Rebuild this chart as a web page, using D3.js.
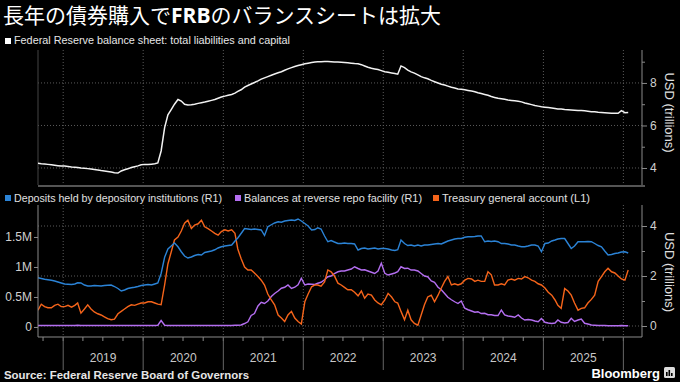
<!DOCTYPE html>
<html>
<head>
<meta charset="utf-8">
<script src="https://cdn.jsdelivr.net/npm/d3@7"></script>
<style>
  body { margin: 0; background: #000; }
  svg text { font-family: "Liberation Sans", Arial, sans-serif; fill: #d0d0d0; }
</style>
</head>
<body>
<div id="chart"></div>
<script>
// chart size
let svgWidth = 680,
  svgHeight = 382;

// texts
let titleParts = ["長年の債券購入で", "FRB", "のバランスシートは拡大"];
let topLegend = "Federal Reserve balance sheet: total liabilities and capital";
let seriesNames = [
  "Deposits held by depository institutions (R1)",
  "Balances at reverse repo facility (R1)",
  "Treasury general account  (L1)",
];
let yearLabels = ["2019", "2020", "2021", "2022", "2023", "2024", "2025"];
let topTicks = [4, 6, 8];
let topMinorTicks = [5, 7, 9];
let rightTicks = [0, 2, 4];
let rightMinorTicks = [1, 3];
let leftTicks = [0, 0.5, 1, 1.5];

// semi-monthly readings (8th and 23rd of each month), Sep 2018 - Jan 2026
// Fed balance sheet, USD trillions
let balanceSheet = [
  4.22, 4.20, 4.19, 4.17, 4.15, 4.13, 4.11, 4.09,
  4.09, 4.07, 4.05, 4.04, 4.02, 4.00, 3.99, 3.97, 3.95, 3.93, 3.91, 3.88,
  3.86, 3.84, 3.81, 3.78, 3.76, 3.86, 3.92, 3.96, 4.02, 4.06, 4.10, 4.15,
  4.17, 4.16, 4.18, 4.20, 4.24, 4.80, 5.90, 6.50, 6.75, 7.00, 7.22, 7.15,
  7.00, 6.96, 6.97, 7.00, 7.04, 7.07, 7.10, 7.14, 7.18, 7.22, 7.28, 7.34,
  7.38, 7.42, 7.46, 7.52, 7.60, 7.68, 7.80, 7.88, 7.95, 8.02, 8.10, 8.18,
  8.24, 8.30, 8.36, 8.42, 8.48, 8.53, 8.60, 8.66, 8.72, 8.77, 8.82, 8.86,
  8.90, 8.93, 8.96, 8.98, 9.00, 9.00, 9.01, 9.01, 9.00, 8.99, 8.98, 8.97,
  8.96, 8.95, 8.93, 8.91, 8.90, 8.86, 8.80, 8.74, 8.69, 8.66, 8.63, 8.58,
  8.53, 8.50, 8.47, 8.44, 8.41, 8.80, 8.72, 8.60, 8.52, 8.46, 8.38, 8.30,
  8.24, 8.20, 8.12, 8.06, 8.00, 7.94, 7.90, 7.85, 7.80, 7.76, 7.72, 7.70,
  7.68, 7.65, 7.62, 7.59, 7.54, 7.50, 7.46, 7.42, 7.36, 7.32, 7.28, 7.26,
  7.23, 7.20, 7.18, 7.16, 7.14, 7.11, 7.06, 7.02, 6.98, 6.94, 6.91, 6.88,
  6.86, 6.84, 6.82, 6.80, 6.78, 6.77, 6.75, 6.74, 6.73, 6.72, 6.71, 6.70,
  6.69, 6.67, 6.65, 6.64, 6.62, 6.61, 6.60, 6.59, 6.58, 6.57, 6.57, 6.70,
  6.60, 6.61,
];

// deposits held by depository institutions, USD trillions (right axis)
let deposits = [
  1.93, 1.90, 1.87, 1.85, 1.83, 1.80, 1.76, 1.72,
  1.68, 1.67, 1.66, 1.68, 1.73, 1.72, 1.64, 1.60, 1.60, 1.62, 1.61, 1.60,
  1.62, 1.63, 1.64, 1.58, 1.50, 1.40, 1.44, 1.50, 1.53, 1.55, 1.58, 1.62,
  1.64, 1.66, 1.64, 1.68, 1.72, 2.10, 2.75, 3.08, 3.20, 3.32, 3.17, 2.97,
  2.80, 2.72, 2.76, 2.82, 2.86, 2.84, 2.94, 2.97, 3.00, 3.05, 3.12, 3.17,
  3.20, 3.22, 3.24, 3.40, 3.52, 3.70, 3.90, 3.88, 3.86, 3.88, 3.86, 3.84,
  3.62, 3.97, 4.05, 4.12, 4.17, 4.15, 4.20, 4.22, 4.24, 4.22, 4.28, 4.20,
  4.10, 4.00, 3.84, 3.86, 3.93, 3.88, 3.60, 3.37, 3.42, 3.36, 3.30, 3.30,
  3.32, 3.30, 3.30, 3.28, 3.04, 3.10, 3.12, 3.08, 3.10, 3.12, 3.08, 3.10,
  3.10, 3.08, 3.04, 3.02, 3.05, 3.44, 3.30, 3.22, 3.24, 3.20, 3.24, 3.20,
  3.24, 3.24, 3.26, 3.28, 3.30, 3.28, 3.34, 3.40, 3.44, 3.48, 3.50, 3.50,
  3.55, 3.57, 3.57, 3.58, 3.60, 3.60, 3.37, 3.40, 3.38, 3.40, 3.37, 3.30,
  3.30, 3.28, 3.24, 3.24, 3.20, 3.17, 3.17, 3.20, 3.24, 3.24, 3.20, 2.97,
  3.30, 3.32, 3.40, 3.44, 3.48, 3.50, 3.50, 3.30, 3.10, 3.20, 3.37, 3.37,
  3.37, 3.38, 3.37, 3.30, 3.22, 3.17, 3.00, 2.84, 2.86, 2.90, 2.92, 2.96,
  2.97, 2.92,
];

// reverse repo facility balances, USD trillions (right axis)
let reverseRepo = [
  0.02, 0.02, 0.02, 0.02, 0.02, 0.02, 0.02, 0.02,
  0.02, 0.02, 0.02, 0.02, 0.03, 0.02, 0.02, 0.02, 0.02, 0.02, 0.02, 0.02,
  0.02, 0.02, 0.02, 0.02, 0.02, 0.02, 0.02, 0.02, 0.02, 0.02, 0.02, 0.02,
  0.02, 0.02, 0.02, 0.02, 0.03, 0.22, 0.03, 0.02, 0.02, 0.02, 0.02, 0.02,
  0.02, 0.02, 0.02, 0.02, 0.02, 0.02, 0.02, 0.02, 0.02, 0.02, 0.02, 0.02,
  0.02, 0.02, 0.02, 0.03, 0.03, 0.04, 0.10, 0.17, 0.42, 0.50, 0.80, 0.95,
  0.90, 1.00, 1.18, 1.30, 1.40, 1.51, 1.55, 1.64, 1.50, 1.55, 1.65, 1.91,
  1.64, 1.68, 1.67, 1.66, 1.71, 1.75, 1.85, 1.97, 2.00, 2.10, 2.17, 2.20,
  2.20, 2.24, 2.28, 2.37, 2.30, 2.24, 2.25, 2.20, 2.15, 2.10, 2.20, 2.51,
  2.11, 2.04, 2.08, 2.12, 2.17, 2.37, 2.30, 2.31, 2.24, 2.24, 2.20, 2.10,
  2.00, 1.97, 1.80, 1.75, 1.55, 1.45, 1.30, 1.15, 1.05, 0.97, 0.90, 1.00,
  0.71, 0.65, 0.60, 0.55, 0.57, 0.50, 0.51, 0.45, 0.45, 0.42, 0.42, 0.64,
  0.44, 0.40, 0.38, 0.35, 0.44, 0.32, 0.24, 0.26, 0.24, 0.20, 0.17, 0.30,
  0.15, 0.12, 0.10, 0.12, 0.24, 0.15, 0.12, 0.14, 0.31, 0.18, 0.24, 0.28,
  0.11, 0.08, 0.04, 0.03, 0.02, 0.02, 0.02, 0.01, 0.01, 0.01, 0.01, 0.02,
  0.01, 0.01,
];

// treasury general account, USD millions (millions of millions, left axis)
let treasuryAccount = [
  0.28, 0.38, 0.34, 0.32, 0.32, 0.36, 0.38, 0.34,
  0.34, 0.36, 0.33, 0.36, 0.40, 0.23, 0.30, 0.37, 0.30, 0.25, 0.22, 0.20,
  0.17, 0.14, 0.12, 0.13, 0.22, 0.26, 0.30, 0.34, 0.37, 0.36, 0.38, 0.40,
  0.40, 0.42, 0.42, 0.40, 0.38, 0.37, 0.70, 1.05, 1.25, 1.45, 1.50, 1.60,
  1.73, 1.78, 1.64, 1.70, 1.72, 1.78, 1.67, 1.64, 1.60, 1.56, 1.53, 1.59,
  1.62, 1.60, 1.62, 1.56, 1.30, 1.14, 1.00, 0.95, 0.95, 0.90, 0.84, 0.78,
  0.70, 0.55, 0.45, 0.37, 0.20, 0.15, 0.09, 0.20, 0.26, 0.15, 0.09, 0.05,
  0.42, 0.55, 0.67, 0.70, 0.70, 0.68, 0.75, 0.95, 0.92, 0.85, 0.73, 0.70,
  0.66, 0.62, 0.62, 0.58, 0.52, 0.60, 0.48, 0.55, 0.53, 0.45, 0.40, 0.37,
  0.45, 0.56, 0.50, 0.42, 0.40, 0.26, 0.12, 0.28, 0.12, 0.06, 0.03, 0.20,
  0.37, 0.50, 0.53, 0.42, 0.53, 0.65, 0.76, 0.84, 0.70, 0.72, 0.70, 0.72,
  0.78, 0.81, 0.80, 0.76, 0.78, 0.76, 0.76, 0.92, 0.87, 0.70, 0.70, 0.72,
  0.70, 0.78, 0.80, 0.78, 0.81, 0.80, 0.84, 0.82, 0.78, 0.76, 0.72, 0.70,
  0.65, 0.58, 0.53, 0.45, 0.36, 0.31, 0.64, 0.60, 0.53, 0.40, 0.28, 0.31,
  0.32, 0.40, 0.46, 0.53, 0.76, 0.84, 0.92, 0.98, 0.92, 0.90, 0.85, 0.80,
  0.78, 0.95,
];

// colors
let colors = {
  balance: "#f2f2f2",
  deposits: "#2b83d6",
  repo: "#b46ef0",
  treasury: "#f5641a",
  grid: "#5a5a5a",
  axis: "#8a8a8a",
};

// dates: 8th and 23rd of each month
let dates = d3
  .timeMonth.range(new Date(2018, 8, 1), new Date(2026, 1, 1))
  .flatMap((m) => [
    new Date(m.getFullYear(), m.getMonth(), 8),
    new Date(m.getFullYear(), m.getMonth(), 23),
  ]);

// plot geometry
let plotLeft = 38,
  plotRight = 642;
let topPanel = { top: 50, bottom: 185 };
let bottomPanel = { top: 205, bottom: 337 };

let svg = d3
  .select("#chart")
  .append("svg")
  .attr("width", svgWidth)
  .attr("height", svgHeight)
  .style("background", "#000");

// scales
let xScale = d3
  .scaleTime()
  .domain([new Date(2018, 8, 8), new Date(2026, 2, 27)])
  .range([plotLeft, plotRight]);

let yTop = d3
  .scaleLinear()
  .domain([3.2, 9.55])
  .range([topPanel.bottom, topPanel.top]);

let yRight = d3
  .scaleLinear()
  .domain([-0.44, 4.84])
  .range([bottomPanel.bottom, bottomPanel.top]);

let yLeft = d3
  .scaleLinear()
  .domain([-0.167, 2.033])
  .range([bottomPanel.bottom, bottomPanel.top]);

let yearStarts = d3.range(2019, 2027).map((y) => new Date(y, 0, 1));

// title
let title = svg
  .append("text")
  .attr("x", 3)
  .attr("y", 23)
  .style("font-family", "'Noto Sans CJK JP', sans-serif")
  .style("font-size", "21px")
  .style("fill", "#ffffff");
titleParts.forEach((part, i) => {
  title
    .append("tspan")
    .text(part)
    .style("font-weight", i === 1 ? "bold" : "normal")
    .style("font-family", i === 1 ? "'Open Sans', sans-serif" : null);
});

// top legend
svg.append("rect").attr("x", 5).attr("y", 38).attr("width", 6).attr("height", 6).attr("fill", "#fff");
svg
  .append("text")
  .attr("x", 14)
  .attr("y", 44)
  .attr("textLength", 276)
  .attr("lengthAdjust", "spacingAndGlyphs")
  .style("font-size", "11px")
  .style("fill", "#e6e6e6")
  .text(topLegend);

// gridlines
function drawGrid(panel, yScale, values) {
  let g = svg.append("g");
  g.selectAll(".hgrid")
    .data(values)
    .enter()
    .append("line")
    .attr("x1", plotLeft)
    .attr("x2", plotRight)
    .attr("y1", (d) => yScale(d))
    .attr("y2", (d) => yScale(d))
    .attr("stroke", colors.grid)
    .attr("stroke-dasharray", "1,2");
  g.selectAll(".vgrid")
    .data(yearStarts)
    .enter()
    .append("line")
    .attr("x1", (d) => xScale(d))
    .attr("x2", (d) => xScale(d))
    .attr("y1", panel.top)
    .attr("y2", panel.bottom)
    .attr("stroke", colors.grid)
    .attr("stroke-dasharray", "1,2");
}
drawGrid(topPanel, yTop, topTicks);
drawGrid(bottomPanel, yRight, rightTicks);

// clip paths
svg.append("clipPath").attr("id", "clipTop").append("rect")
  .attr("x", plotLeft).attr("y", topPanel.top)
  .attr("width", plotRight - plotLeft).attr("height", topPanel.bottom - topPanel.top);
svg.append("clipPath").attr("id", "clipBottom").append("rect")
  .attr("x", plotLeft).attr("y", bottomPanel.top)
  .attr("width", plotRight - plotLeft).attr("height", bottomPanel.bottom - bottomPanel.top);

// panel frames
svg.append("line")
  .attr("x1", plotLeft).attr("x2", plotLeft)
  .attr("y1", topPanel.top).attr("y2", topPanel.bottom)
  .attr("stroke", "#444");
svg.append("line")
  .attr("x1", plotLeft).attr("x2", plotRight + 3)
  .attr("y1", topPanel.bottom + 1).attr("y2", topPanel.bottom + 1)
  .attr("stroke", "#555").attr("stroke-width", 2);

// lines
function lineFor(yScale, values) {
  return d3
    .line()
    .x((d, i) => xScale(dates[i]))
    .y((d) => yScale(d))(values);
}

svg.append("path")
  .attr("d", lineFor(yTop, balanceSheet))
  .attr("clip-path", "url(#clipTop)")
  .attr("fill", "none")
  .attr("stroke", colors.balance)
  .attr("stroke-width", 1.5);

let bottomSeries = [
  { values: reverseRepo, scale: yRight, color: colors.repo },
  { values: treasuryAccount, scale: yLeft, color: colors.treasury },
  { values: deposits, scale: yRight, color: colors.deposits },
];
bottomSeries.forEach((s) => {
  svg.append("path")
    .attr("d", lineFor(s.scale, s.values))
    .attr("clip-path", "url(#clipBottom)")
    .attr("fill", "none")
    .attr("stroke", s.color)
    .attr("stroke-width", 1.4);
});

// right axes
function rightAxis(panel, yScale, ticks, minor) {
  let g = svg.append("g").attr("transform", `translate(${plotRight}, 0)`);
  g.call(d3.axisRight(yScale).tickValues(ticks).tickSize(5).tickPadding(3).tickFormat(d3.format("d")));
  g.append("g").call(d3.axisRight(yScale).tickValues(minor).tickSize(3).tickFormat(""));
  g.selectAll(".domain").remove();
  g.selectAll("line").attr("stroke", colors.axis);
  g.selectAll("text").style("font-size", "12px").style("fill", "#d0d0d0").style("font-family", "'Liberation Sans', sans-serif");
  g.append("line")
    .attr("y1", panel.top).attr("y2", panel.bottom)
    .attr("stroke", colors.axis);
}
rightAxis(topPanel, yTop, topTicks, topMinorTicks);
rightAxis(bottomPanel, yRight, rightTicks, rightMinorTicks);

// left axis (bottom panel)
let leftG = svg.append("g").attr("transform", `translate(${plotLeft}, 0)`);
leftG.call(
  d3.axisLeft(yLeft)
    .tickValues(leftTicks)
    .tickSize(4)
    .tickPadding(2)
    .tickFormat((d) => (d === 0 ? "0" : d + "M"))
);
leftG.selectAll(".domain").remove();
leftG.selectAll("line").attr("stroke", colors.axis);
leftG.selectAll("text").style("font-size", "12px").style("fill", "#d0d0d0").style("font-family", "'Liberation Sans', sans-serif");
leftG.append("line")
  .attr("y1", bottomPanel.top).attr("y2", bottomPanel.bottom)
  .attr("stroke", colors.axis);

// axis titles
[
  { y: (topPanel.top + topPanel.bottom) / 2 - 5 },
  { y: (bottomPanel.top + bottomPanel.bottom) / 2 + 1 },
].forEach((a) => {
  svg.append("text")
    .attr("transform", `translate(665, ${a.y}) rotate(90)`)
    .attr("text-anchor", "middle")
    .style("font-size", "13px")
    .style("fill", "#e0e0e0")
    .text("USD (trillions)");
});

// bottom legend
let legendX = [5, 235, 433];
let legendWidths = [208, 178, 148];
let legendColors = [colors.deposits, colors.repo, colors.treasury];
seriesNames.forEach((name, i) => {
  svg.append("rect")
    .attr("x", legendX[i]).attr("y", 195)
    .attr("width", 6).attr("height", 6)
    .attr("fill", legendColors[i]);
  svg.append("text")
    .attr("x", legendX[i] + 9)
    .attr("y", 202)
    .attr("textLength", legendWidths[i])
    .attr("lengthAdjust", "spacingAndGlyphs")
    .style("font-size", "11px")
    .style("fill", "#e0e0e0")
    .text(name);
});

// x axis
let xAxisG = svg.append("g");
xAxisG.append("line")
  .attr("x1", plotLeft).attr("x2", plotRight)
  .attr("y1", bottomPanel.bottom).attr("y2", bottomPanel.bottom)
  .attr("stroke", colors.axis);
let quarterTicks = d3.timeMonth.every(3).range(xScale.domain()[0], xScale.domain()[1]);
xAxisG.selectAll(".qtick")
  .data(quarterTicks)
  .enter()
  .append("line")
  .attr("x1", (d) => xScale(d)).attr("x2", (d) => xScale(d))
  .attr("y1", bottomPanel.bottom).attr("y2", bottomPanel.bottom + 4)
  .attr("stroke", colors.axis);
xAxisG.selectAll(".ytick")
  .data(yearStarts)
  .enter()
  .append("line")
  .attr("x1", (d) => xScale(d)).attr("x2", (d) => xScale(d))
  .attr("y1", bottomPanel.bottom).attr("y2", 370)
  .attr("stroke", "#666");
xAxisG.selectAll(".ylabel")
  .data(yearLabels)
  .enter()
  .append("text")
  .attr("x", (d) => xScale(new Date(+d, 6, 2)))
  .attr("y", 362)
  .attr("text-anchor", "middle")
  .style("font-size", "12px")
  .style("fill", "#c8c8c8")
  .text((d) => d);

// footer
svg.append("text")
  .attr("x", 4)
  .attr("y", 379)
  .attr("textLength", 245)
  .attr("lengthAdjust", "spacingAndGlyphs")
  .style("font-size", "11px")
  .style("font-weight", "bold")
  .style("fill", "#e6e6e6")
  .text("Source: Federal Reserve Board of Governors");

svg.append("text")
  .attr("x", 660)
  .attr("y", 378)
  .attr("text-anchor", "end")
  .style("font-size", "13px")
  .style("font-weight", "bold")
  .style("fill", "#ffffff")
  .text("Bloomberg");
let logo = svg.append("g").attr("transform", "translate(664, 367)");
logo.append("rect").attr("width", 11).attr("height", 11).attr("rx", 1.5).attr("fill", "#ddd");
[[2, 5], [4.5, 3], [7, 6]].forEach(([bx, by]) => {
  logo.append("rect").attr("x", bx).attr("y", by).attr("width", 1.6).attr("height", 9 - by).attr("fill", "#000");
});
</script>
</body>
</html>
